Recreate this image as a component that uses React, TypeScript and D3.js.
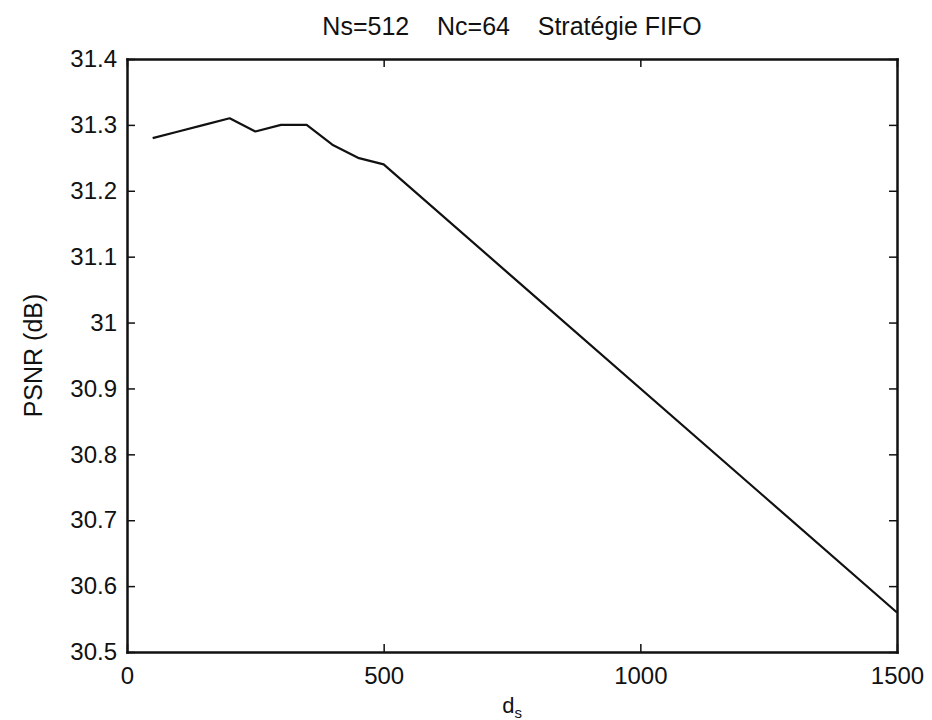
import React, { useEffect, useRef } from 'react';
import * as d3 from 'd3';

const dsValues = [50, 100, 150, 200, 250, 300, 350, 400, 450, 500, 1500];
const psnrValues = [31.28, 31.29, 31.3, 31.31, 31.29, 31.3, 31.3, 31.27, 31.25, 31.24, 30.56];

const xTicks = [0, 500, 1000, 1500];
const yTicks = [30.5, 30.6, 30.7, 30.8, 30.9, 31, 31.1, 31.2, 31.3, 31.4];

const titleText = 'Ns=512\u00a0\u00a0\u00a0\u00a0Nc=64\u00a0\u00a0\u00a0\u00a0Stratégie FIFO';

const width = 932;
const height = 720;
const margin = { top: 59, right: 35, bottom: 68, left: 127 };
const font = 'Arial, "Liberation Sans", Helvetica, sans-serif';

export default function App() {
  const ref = useRef<SVGSVGElement>(null);

  useEffect(() => {
    const svg = d3.select(ref.current);
    svg.selectAll('*').remove();

    const x = d3.scaleLinear().domain([0, 1500]).range([margin.left, width - margin.right]);
    const y = d3.scaleLinear().domain([30.5, 31.4]).range([height - margin.bottom, margin.top]);
    const tickLen = 8;

    const g = svg.append('g');

    // data line
    const line = d3.line<number>()
      .x((d, i) => x(dsValues[i]))
      .y(d => y(d));
    g.append('path')
      .datum(psnrValues)
      .attr('fill', 'none')
      .attr('stroke', '#111')
      .attr('stroke-width', 2.2)
      .attr('stroke-linejoin', 'round')
      .attr('d', line);

    // inward ticks on all four sides
    const bottom = d3.axisBottom(x).tickValues(xTicks).tickSizeInner(-tickLen).tickSizeOuter(0).tickPadding(15).tickFormat(d3.format('d'));
    const top = d3.axisTop(x).tickValues(xTicks).tickSizeInner(-tickLen).tickSizeOuter(0).tickFormat(() => '');
    const left = d3.axisLeft(y).tickValues(yTicks).tickSizeInner(-tickLen).tickSizeOuter(0).tickPadding(10).tickFormat(d => String(+d));
    const right = d3.axisRight(y).tickValues(yTicks).tickSizeInner(-tickLen).tickSizeOuter(0).tickFormat(() => '');

    const axes = [
      g.append('g').attr('transform', `translate(0,${height - margin.bottom})`).call(bottom),
      g.append('g').attr('transform', `translate(0,${margin.top})`).call(top),
      g.append('g').attr('transform', `translate(${margin.left},0)`).call(left),
      g.append('g').attr('transform', `translate(${width - margin.right},0)`).call(right),
    ];
    axes.forEach(a => {
      a.select('.domain').attr('stroke', '#111').attr('stroke-width', 2.5).attr('stroke-linecap', 'square');
      a.selectAll('.tick line').attr('stroke', '#111').attr('stroke-width', 1.5);
      a.selectAll('.tick text').attr('fill', '#111').style('font-family', font).style('font-size', '24px');
    });

    // title & labels
    svg.append('text')
      .attr('x', (margin.left + width - margin.right) / 2)
      .attr('y', 35)
      .attr('text-anchor', 'middle')
      .style('font-family', font)
      .style('font-size', '25px')
      .attr('fill', '#111')
      .text(titleText);

    svg.append('text')
      .attr('transform', `translate(42,${(margin.top + height - margin.bottom) / 2}) rotate(-90)`)
      .attr('text-anchor', 'middle')
      .style('font-family', font)
      .style('font-size', '25px')
      .attr('fill', '#111')
      .text('PSNR (dB)');

    const xl = svg.append('text')
      .attr('x', (margin.left + width - margin.right) / 2)
      .attr('y', 713)
      .attr('text-anchor', 'middle')
      .style('font-family', font)
      .style('font-size', '22px')
      .attr('fill', '#111');
    xl.append('tspan').text('d');
    xl.append('tspan').attr('dy', 5).style('font-size', '15px').text('s');
  }, []);

  return (
    <svg
      ref={ref}
      width={width}
      height={height}
      style={{ position: 'absolute', left: 0, top: 0, background: '#fff' }}
    />
  );
}
